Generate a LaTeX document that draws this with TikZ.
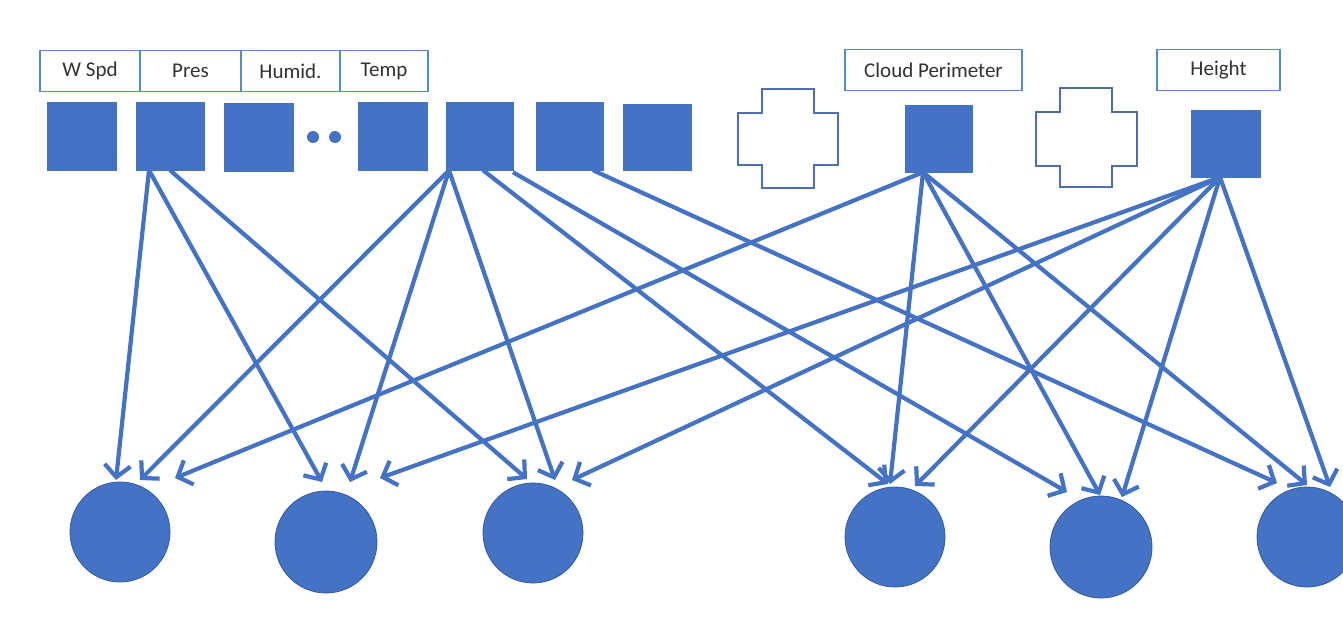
\documentclass[tikz,border=0pt]{standalone}
\usepackage{fontspec}
\setmainfont{Carlito}
\usetikzlibrary{arrows.meta,calc,backgrounds}
\definecolor{nblue}{RGB}{68,114,196}
\definecolor{nedge}{RGB}{52,90,160}
\definecolor{lblue}{RGB}{86,140,205}
\definecolor{xblue}{RGB}{78,110,178}
\definecolor{ltext}{RGB}{50,50,50}
\begin{document}
\begin{tikzpicture}[x=1pt,y=-1pt,
  sq/.style={rectangle,fill=nblue,draw=nblue,line width=0.5pt,minimum width=68pt,minimum height=68pt,inner sep=0pt},
  lab/.style={rectangle,draw=lblue,fill=white,line width=1.8pt,inner sep=0pt,minimum height=41pt,font=\fontsize{21}{25}\selectfont,text=ltext},
  outc/.style={circle,fill=nblue,draw=nedge,line width=0.8pt,inner sep=0pt,minimum size=100pt},
  arr/.style={draw=nblue,line width=4.2pt,-{Straight Barb[length=12pt,width=26pt]}},
  dotn/.style={circle,fill=nblue,inner sep=0pt,minimum size=12pt},
  crossshape/.style={draw=xblue,fill=white,line width=1.6pt}]
\clip (0,0) rectangle (1343,619);

% label boxes
\node[lab,minimum width=100pt] (lw) at (90,71) {W Spd};
\node[lab,minimum width=101pt] (lp) at (190.5,71) {Pres};
\node[lab,minimum width=99pt] (lh) at (290.5,71) {Humid.};
\node[lab,minimum width=88pt] (lt) at (384,71) {Temp};
\node[lab,minimum width=177pt] (lc) at (933.5,70) {Cloud Perimeter};
\node[lab,minimum width=123pt] (lg) at (1218.5,70) {Height};

% input squares
\node[sq,minimum width=69pt] (s1) at (81.5,136) {};
\node[sq] (s2) at (170,136) {};
\node[sq,minimum width=69pt] (s3) at (258.5,137) {};
\node[dotn] (d1) at (313,137) {};
\node[dotn] (d2) at (335,137) {};
\node[sq,minimum width=69pt] (s4) at (392.5,136) {};
\node[sq,minimum width=67pt] (s5) at (480,136) {};
\node[sq,minimum width=67pt] (s6) at (569.5,136) {};
\node[sq,minimum height=66pt] (s7) at (657,137) {};
\node[sq,minimum width=67pt,minimum height=67pt] (scp) at (938.5,138.5) {};
\node[sq,minimum width=69pt,minimum height=67pt] (sh) at (1225.5,143.5) {};

% crosses
\draw[crossshape] (762,89) -- (814,89) -- (814,113) -- (838,113) -- (838,165) -- (814,165) -- (814,188) -- (762,188) -- (762,165) -- (738,165) -- (738,113) -- (762,113) -- cycle;
\draw[crossshape] (1060,88) -- (1112,88) -- (1112,112) -- (1137,112) -- (1137,166) -- (1112,166) -- (1112,187) -- (1060,187) -- (1060,166) -- (1036,166) -- (1036,112) -- (1060,112) -- cycle;

% output circles
\node[outc] (c1) at (120,532) {};
\node[outc,minimum size=102pt] (c2) at (326,542) {};
\node[outc] (c3) at (533,533) {};
\node[outc] (c4) at (895,537) {};
\node[outc,minimum size=102pt] (c5) at (1101,547) {};
\node[outc] (c6) at (1307,537) {};

\begin{scope}[on background layer]
\fill[white] (0,0) rectangle (1343,619);
% from Pres
\draw[arr] ($(s2.south)+(-21,0)$) -- ($(c1)+(-4,-52)$);
\draw[arr] ($(s2.south)+(-21,0)$) -- ($(c2)+(-4,-60)$);
\draw[arr] (s2.south) -- ($(c3)+(-6,-54)$);
% from fifth square
\draw[arr] ($(s5.south)+(-31,0)$) -- ($(c1)+(20,-52)$);
\draw[arr] ($(s5.south)+(-31,0)$) -- ($(c2)+(24,-60)$);
\draw[arr] ($(s5.south)+(-31,0)$) -- ($(c3)+(22,-53)$);
\draw[arr] ($(s5.south)+(3,0)$) -- ($(c4)+(-7,-53)$);
\draw[arr] ($(s5.south)+(33,2)$) -- ($(c5)+(-34,-55)$);
% from sixth square
\draw[arr] ($(s6.south)+(23.5,0)$) -- ($(c6)+(-30,-54)$);
% from Cloud Perimeter
\draw[arr] ($(scp.south)+(-15.5,0)$) -- ($(c1)+(55,-54)$);
\draw[arr] ($(scp.south)+(-15.5,0)$) -- ($(c4)+(-5,-53)$);
\draw[arr] ($(scp.south)+(-15.5,0)$) -- ($(c5)+(-1,-52)$);
\draw[arr] ($(scp.south)+(-15.5,0)$) -- ($(c6)+(0,-52)$);
% from Height
\draw[arr] ($(sh.south)+(-5.5,0)$) -- ($(c2)+(54,-64)$);
\draw[arr] ($(sh.south)+(-5.5,0)$) -- ($(c3)+(39,-53)$);
\draw[arr] ($(sh.south)+(-5.5,0)$) -- ($(c4)+(20,-51)$);
\draw[arr] ($(sh.south)+(-5.5,0)$) -- ($(c5)+(21,-50)$);
\draw[arr] ($(sh.south)+(-5.5,0)$) -- ($(c6)+(23,-50)$);
\end{scope}
\end{tikzpicture}
\end{document}
